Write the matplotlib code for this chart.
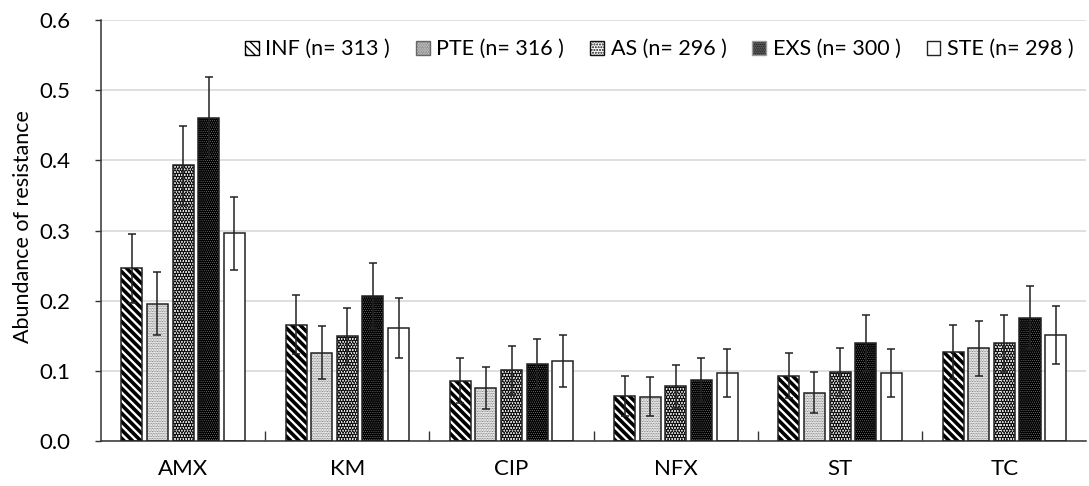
import matplotlib
matplotlib.use("Agg")
import matplotlib.pyplot as plt
import matplotlib.patches as mpatches
import numpy as np

categories = ["AMX", "KM", "CIP", "NFX", "ST", "TC"]
series = ["INF (n= 313 )", "PTE (n= 316 )", "AS (n= 296 )", "EXS (n= 300 )", "STE (n= 298 )"]

inf_vals = [0.246, 0.166, 0.086, 0.064, 0.093, 0.127]
pte_vals = [0.196, 0.126, 0.076, 0.063, 0.069, 0.132]
as_vals  = [0.393, 0.149, 0.101, 0.078, 0.098, 0.139]
exs_vals = [0.461, 0.207, 0.110, 0.087, 0.140, 0.176]
ste_vals = [0.296, 0.161, 0.114, 0.097, 0.097, 0.151]

inf_err = [0.049, 0.042, 0.032, 0.028, 0.032, 0.038]
pte_err = [0.045, 0.038, 0.030, 0.028, 0.029, 0.039]
as_err  = [0.056, 0.041, 0.035, 0.031, 0.034, 0.040]
exs_err = [0.058, 0.047, 0.036, 0.032, 0.040, 0.045]
ste_err = [0.052, 0.043, 0.037, 0.034, 0.034, 0.041]

values = [inf_vals, pte_vals, as_vals, exs_vals, ste_vals]
errors = [inf_err, pte_err, as_err, exs_err, ste_err]

# style: (facecolor, hatch, hatchcolor, hatch linewidth)
styles = [
    ("white", "\\\\\\\\", "black", 2.6),
    ("white", "..........", "#666666", 0.6),
    ("white", "......", "#111111", 2.4),
    ("black", "........", "#9a9a9a", 0.3),
    ("white", "", "black", 1.0),
]

plt.rcParams['font.family'] = ['Lato', 'DejaVu Sans']

fig = plt.figure(figsize=(10.89, 4.86), dpi=100)
ax = fig.add_axes([0.0927, 0.0926, 0.905, 0.866])

n = len(series)
x = np.arange(len(categories))
bw = 0.128
step = 0.156
offsets = (np.arange(n) - (n - 1) / 2) * step


def hatched(fn, *args, hlw=1.0, **kw):
    with plt.rc_context({'hatch.linewidth': hlw}):
        res = fn(*args, **kw)
    return res


for i in range(n):
    fc, hatch, hc, hlw = styles[i]
    pos = x + offsets[i]
    bars = hatched(ax.bar, pos, values[i], bw, hlw=hlw, color=fc, edgecolor=hc,
                   hatch=hatch, linewidth=0, zorder=2)
    for b in bars:
        if hasattr(b, "set_hatch_linewidth"):
            b.set_hatch_linewidth(hlw)
    ax.bar(pos, values[i], bw, facecolor="none", edgecolor="#222222", linewidth=1.1, zorder=3)
    ax.errorbar(pos, values[i], yerr=errors[i], fmt="none", ecolor="#222222",
                elinewidth=1.1, capsize=3, capthick=1.1, zorder=4)

ax.set_ylim(0, 0.6)
ax.set_xlim(-0.5, len(categories) - 0.5)
yt = np.arange(0, 0.61, 0.1)
ax.set_yticks(yt)
ax.set_yticklabels([f"{v:.1f}" for v in yt], fontsize=16)
ax.set_xticks(x)
ax.set_xticklabels(categories, fontsize=16)
ax.tick_params(axis='x', which='major', length=0, pad=13)
ax.set_xticks(np.arange(0.5, len(categories) - 0.5, 1), minor=True)
ax.tick_params(axis='x', which='minor', direction='in', length=7, width=1, color='#333333')
ax.tick_params(axis='y', length=4, width=1, color='#333333', pad=18)

ax.yaxis.grid(True, color="#d9d9d9", linewidth=1.2, zorder=0)
ax.set_axisbelow(True)
for s in ["top", "right"]:
    ax.spines[s].set_visible(False)
for s in ["left", "bottom"]:
    ax.spines[s].set_color("#333333")
    ax.spines[s].set_linewidth(1.1)

ax.set_ylabel("Abundance of resistance", fontsize=15.5)
ax.yaxis.set_label_coords(-0.069, 0.51)

leg_handles = []
for i in range(n):
    fc, hatch, hc, hlw = styles[i]
    p = hatched(mpatches.Patch, hlw=min(hlw, 1.5), facecolor=fc,
                edgecolor=hc if hatch else "#222222", hatch=hatch, linewidth=1.0)
    if hasattr(p, "set_hatch_linewidth"):
        p.set_hatch_linewidth(min(hlw, 1.5))
    leg_handles.append(p)

leg = ax.legend(leg_handles, series, loc="upper right", bbox_to_anchor=(1.0, 0.985),
                ncol=5, frameon=False, fontsize=15.5, handlelength=0.65, handleheight=0.65,
                handletextpad=0.3, columnspacing=1.2, borderaxespad=0.2)

fig.savefig("out.png", dpi=100)
